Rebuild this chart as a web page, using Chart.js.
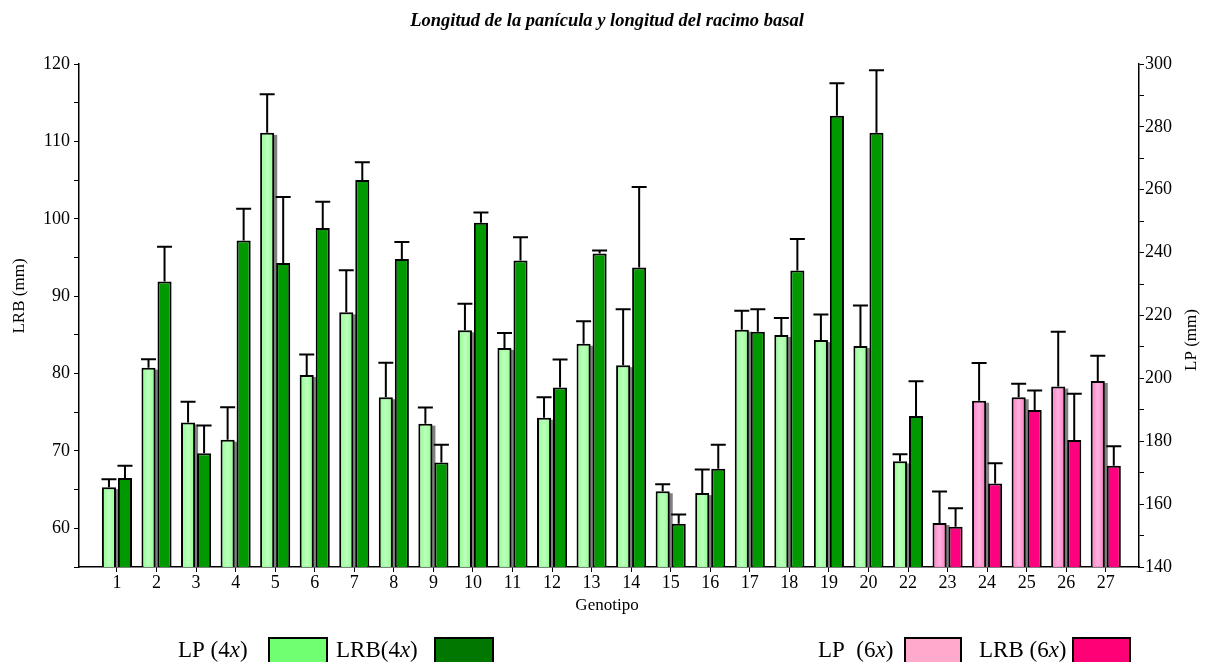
<!DOCTYPE html>
<html>
<head>
<meta charset="utf-8">
<script src="https://cdn.jsdelivr.net/npm/chart.js@4.4.1/dist/chart.umd.min.js"></script>
<style>
  html, body { margin: 0; padding: 0; background: #ffffff; }
  #wrap { position: relative; width: 1205px; height: 662px; }
</style>
</head>
<body>
<div id="wrap"><canvas id="c" width="1205" height="662"></canvas></div>
<script>
// Genotypes (there is no genotype 21)
const genotypes = ['1','2','3','4','5','6','7','8','9','10','11','12','13','14','15','16','17','18','19','20','22','23','24','25','26','27'];
// Ploidy level of each genotype
const ploidy = ['4x','4x','4x','4x','4x','4x','4x','4x','4x','4x','4x','4x','4x','4x','4x','4x','4x','4x','4x','4x','4x','6x','6x','6x','6x','6x'];

// LP: panicle length (mm), right axis
const lpMean = [165.4, 203.4, 186.0, 180.5, 278.1, 201.1, 221.0, 194.0, 185.6, 215.3, 209.7, 187.5, 211.0, 204.2, 164.1, 163.5, 215.5, 213.8, 212.2, 210.3, 173.6, 154.0, 192.9, 194.0, 197.4, 199.2];
const lpErr  = [2.5, 2.7, 6.6, 10.3, 12.3, 6.5, 13.4, 11.0, 5.1, 8.4, 4.7, 6.5, 7.2, 17.8, 2.2, 7.5, 6.0, 5.4, 8.1, 12.9, 2.3, 10.0, 12.0, 4.3, 17.4, 8.0];

// LRB: basal raceme length (mm), left axis
const lrbMean = [66.5, 91.9, 69.7, 97.2, 94.3, 98.8, 105.0, 94.8, 68.5, 99.5, 94.6, 78.2, 95.5, 93.7, 60.6, 67.7, 85.4, 93.3, 113.3, 111.1, 74.5, 60.2, 65.8, 75.3, 71.4, 68.1];
const lrbErr  = [1.6, 4.5, 3.6, 4.1, 8.5, 3.4, 2.3, 2.2, 2.3, 1.3, 3.0, 3.6, 0.4, 10.4, 1.2, 3.1, 2.9, 4.1, 4.2, 8.1, 4.5, 2.4, 2.6, 2.5, 6.0, 2.5];

const COLORS = {
  lp4: '#99ff99', lrb4: '#009900', lp6: '#ff88cc', lrb6: '#ff0080',
  key_lp4: '#70ff70', key_lrb4: '#007800', key_lp6: '#ffaacc', key_lrb6: '#ff0077'
};
const SERIF = '"Liberation Serif", "Times New Roman", serif';

const lpColors = ploidy.map(p => p === '4x' ? COLORS.lp4 : COLORS.lp6);
const lrbColors = ploidy.map(p => p === '4x' ? COLORS.lrb4 : COLORS.lrb6);

const errors = [lpErr, lrbErr];
const means = [lpMean, lrbMean];

// Shadows, highlights, error bars and text decorations
const decor = {
  id: 'decor',
  beforeDatasetsDraw(chart) {
    const ctx = chart.ctx;
    const area = chart.chartArea;
    const meta = chart.getDatasetMeta(0);
    ctx.save();
    ctx.beginPath();
    ctx.rect(area.left, area.top, area.right - area.left, area.bottom - area.top);
    ctx.clip();
    ctx.fillStyle = '#808080';
    meta.data.forEach(el => {
      const w = el.width;
      const bottom = Math.min(el.base, area.bottom);
      ctx.fillRect(el.x - w / 2 + 3, el.y + 2, w, bottom - el.y - 2);
    });
    ctx.restore();
  },
  afterDatasetsDraw(chart) {
    const ctx = chart.ctx;
    const area = chart.chartArea;
    // soft highlight on the light bars
    const meta0 = chart.getDatasetMeta(0);
    ctx.save();
    meta0.data.forEach(el => {
      const l = el.x - el.width / 2 + 2, r = el.x + el.width / 2 - 2;
      const bottom = Math.min(el.base, area.bottom) - 1;
      const g = ctx.createLinearGradient(l, 0, r, 0);
      g.addColorStop(0, 'rgba(255,255,255,0)');
      g.addColorStop(0.5, 'rgba(255,255,255,0.35)');
      g.addColorStop(1, 'rgba(255,255,255,0)');
      ctx.fillStyle = g;
      ctx.fillRect(l, el.y + 2, r - l, bottom - el.y - 2);
    });
    ctx.restore();

    // error bars (upper side only)
    ctx.save();
    ctx.strokeStyle = '#000';
    ctx.lineWidth = 2;
    [0, 1].forEach(d => {
      const meta = chart.getDatasetMeta(d);
      const scale = chart.scales[meta.yAxisID];
      meta.data.forEach((el, i) => {
        const top = scale.getPixelForValue(means[d][i] + errors[d][i]);
        ctx.beginPath();
        ctx.moveTo(el.x, el.y);
        ctx.lineTo(el.x, top);
        ctx.moveTo(el.x - 7.5, top);
        ctx.lineTo(el.x + 7.5, top);
        ctx.stroke();
      });
    });
    ctx.restore();
  },
  afterDraw(chart) {
    const ctx = chart.ctx;
    ctx.save();
    ctx.fillStyle = '#000';
    ctx.textBaseline = 'middle';
    ctx.textAlign = 'center';

    // title
    ctx.font = 'italic bold 18.5px ' + SERIF;
    ctx.fillText('Longitud de la panícula y longitud del racimo basal', 607, 21);

    // x axis title
    ctx.font = '17px ' + SERIF;
    ctx.fillText('Genotipo', 607, 606);

    // y axis titles
    ctx.save();
    ctx.translate(20, 296);
    ctx.rotate(-Math.PI / 2);
    ctx.fillText('LRB (mm)', 0, 0);
    ctx.restore();
    ctx.save();
    ctx.translate(1192, 340);
    ctx.rotate(-Math.PI / 2);
    ctx.fillText('LP (mm)', 0, 0);
    ctx.restore();

    // legend
    const keys = [
      { runs: [['LP (4', false], ['x', true], [')', false]], tx: 178, bx: 269, bw: 58, color: COLORS.key_lp4 },
      { runs: [['LRB(4', false], ['x', true], [')', false]], tx: 336, bx: 435, bw: 58, color: COLORS.key_lrb4 },
      { runs: [['LP  (6', false], ['x', true], [')', false]], tx: 818, bx: 905, bw: 56, color: COLORS.key_lp6 },
      { runs: [['LRB (6', false], ['x', true], [')', false]], tx: 979, bx: 1073, bw: 57, color: COLORS.key_lrb6 }
    ];
    ctx.textAlign = 'left';
    ctx.textBaseline = 'alphabetic';
    keys.forEach(k => {
      let x = k.tx;
      k.runs.forEach(([t, it]) => {
        ctx.font = (it ? 'italic ' : '') + '23px ' + SERIF;
        ctx.fillText(t, x, 657);
        x += ctx.measureText(t).width;
      });
      ctx.fillStyle = k.color;
      ctx.fillRect(k.bx, 638, k.bw, 26);
      ctx.strokeStyle = '#000';
      ctx.lineWidth = 2;
      ctx.strokeRect(k.bx, 638, k.bw, 26);
      ctx.fillStyle = '#000';
    });
    ctx.restore();
  }
};

const tickFont = { family: SERIF, size: 18 };

new Chart(document.getElementById('c'), {
  type: 'bar',
  data: {
    datasets: [
      {
        label: 'LP',
        data: lpMean.map((v, i) => ({ x: i, y: v })),
        yAxisID: 'y1',
        backgroundColor: lpColors,
        borderColor: '#000',
        borderWidth: 2,
        borderSkipped: 'start'
      },
      {
        label: 'LRB',
        data: lrbMean.map((v, i) => ({ x: i, y: v })),
        yAxisID: 'y',
        backgroundColor: lrbColors,
        borderColor: '#000',
        borderWidth: 2,
        borderSkipped: 'start'
      }
    ]
  },
  options: {
    responsive: false,
    animation: false,
    maintainAspectRatio: false,
    categoryPercentage: 0.81,
    barPercentage: 0.88,
    layout: { padding: { top: 64, left: 0, right: 0, bottom: 0 } },
    plugins: { legend: { display: false }, tooltip: { enabled: false }, title: { display: false } },
    scales: {
      x: {
        type: 'linear',
        position: 'bottom',
        min: -0.96,
        max: 25.84,
        offset: false,
        grid: { display: true, offset: false, drawOnChartArea: false, drawTicks: true, tickLength: 5, color: '#000', lineWidth: 1 },
        border: { display: true, color: '#000', width: 1.5 },
        ticks: {
          autoSkip: false, maxRotation: 0, color: '#000', font: tickFont, padding: 0,
          callback: (v) => genotypes[v] !== undefined ? genotypes[v] : ''
        },
        afterBuildTicks: (s) => { s.ticks = genotypes.map((g, i) => ({ value: i })); },
        afterFit: (s) => { s.height = 95; }
      },
      y: {
        position: 'left',
        min: 55,
        max: 120,
        grid: { display: true, drawOnChartArea: false, drawTicks: true, tickLength: 5, color: '#000', lineWidth: 1 },
        border: { display: true, color: '#000', width: 1.5 },
        ticks: {
          stepSize: 5, color: '#000', font: tickFont, padding: 4,
          callback: (v) => v % 10 === 0 ? String(v) : ''
        },
        afterFit: (s) => { s.width = 79; }
      },
      y1: {
        position: 'right',
        min: 140,
        max: 300,
        grid: { display: true, drawOnChartArea: false, drawTicks: true, tickLength: 5, color: '#000', lineWidth: 1 },
        border: { display: true, color: '#000', width: 1.5 },
        ticks: {
          stepSize: 10, color: '#000', font: tickFont, padding: 1,
          callback: (v) => v % 20 === 0 ? String(v) : ''
        },
        afterFit: (s) => { s.width = 66; }
      }
    }
  },
  plugins: [decor]
});
</script>
</body>
</html>
